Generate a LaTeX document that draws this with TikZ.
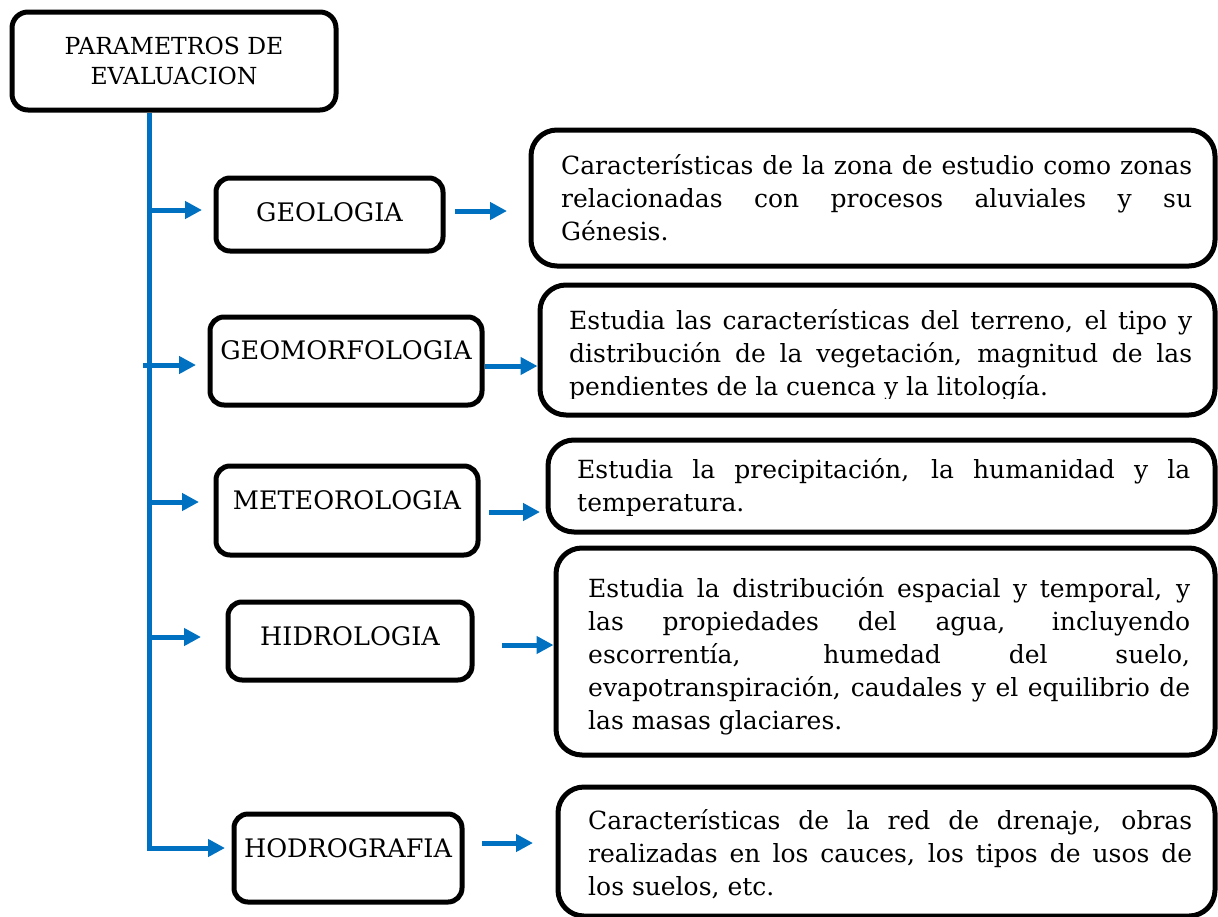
\documentclass[tikz,border=0pt]{standalone}
\usepackage{fontspec}
\setmainfont{DejaVu Serif}
\usepackage{tikz}
\usetikzlibrary{arrows.meta}
\definecolor{azul}{HTML}{0070C0}
\tolerance=10000
\hyphenpenalty=10000

\tikzset{
    caja/.style={draw, line width=5pt, inner sep=0pt},
    tema/.style={caja, rounded corners=14pt, anchor=base, text height=43pt,
        font=\fontsize{25.5}{30}\selectfont},
    detalle/.style={caja, rounded corners=26pt},
    texto/.style={inner sep=0pt, anchor=north west, align=justify,
        font=\fontsize{25}{33}\selectfont},
    rama/.style={draw=azul, line width=5pt, -{Triangle[length=17pt,width=17pt]}}
}

\begin{document}
\begin{tikzpicture}[x=1pt, y=-1pt]
\useasboundingbox (0,0) rectangle (1218,916);

\node[caja, rounded corners=16pt, minimum width=324pt, minimum height=98pt,
    align=center, font=\fontsize{23.5}{30}\selectfont] (param) at (174,61)
    {PARAMETROS DE\\EVALUACION};
\coordinate (tronco) at ([xshift=-25pt]param.south);

\node[tema, minimum width=227pt, text depth=30pt] (geo)    at (329.5,221) {GEOLOGIA};
\node[tema, minimum width=272pt, text depth=46pt, text height=42pt] (geomor) at (346,359) {GEOMORFOLOGIA};
\node[tema, minimum width=262pt, text depth=46pt] (meteo)  at (347,509) {METEOROLOGIA};
\node[tema, minimum width=244pt, text depth=35pt] (hidro)  at (350,645) {HIDROLOGIA};
\node[tema, minimum width=228pt, text depth=45pt] (hodro)  at (348,857) {HODROGRAFIA};

\node[detalle, minimum width=684pt, minimum height=136pt] (d1) at (873,198) {};
\node[detalle, minimum width=675pt, minimum height=130pt] (d2) at (877.5,350) {};
\node[detalle, minimum width=667pt, minimum height=92pt]  (d3) at (881.5,486) {};
\node[detalle, minimum width=659pt, minimum height=207pt] (d4) at (885.5,651.5) {};
\node[detalle, minimum width=657pt, minimum height=129pt] (d5) at (886.5,851.5) {};

\begin{scope}
    \clip (d1.north west) rectangle ([yshift=19pt]d1.south east);
    \node[texto, text width=631pt] (t1) at (561,150.9)
        {\strut Características de la zona de estudio como zonas\linebreak
        relacionadas con procesos aluviales y su\linebreak
        Génesis.};
\end{scope}
\begin{scope}
    \clip (d2.north west) rectangle ([yshift=19pt]d2.south east);
    \node[texto, text width=623pt] (t2) at (569,305.9)
        {\strut Estudia las características del terreno, el tipo y\linebreak
        distribución de la vegetación, magnitud de las\linebreak
        pendientes de la cuenca y la litología.};
\end{scope}
\begin{scope}
    \clip (d3.north west) rectangle ([yshift=19pt]d3.south east);
    \node[texto, text width=613pt] (t3) at (577,454.9)
        {\strut Estudia la precipitación, la humanidad y la\linebreak
        temperatura.};
\end{scope}
\begin{scope}
    \clip (d4.north west) rectangle ([yshift=19pt]d4.south east);
    \node[texto, text width=602pt] (t4) at (588,573.9)
        {\strut Estudia la distribución espacial y temporal, y\linebreak
        las propiedades del agua, incluyendo\linebreak
        escorrentía, humedad del suelo,\linebreak
        evapotranspiración, caudales y el equilibrio de\linebreak
        las masas glaciares.};
\end{scope}
\begin{scope}
    \clip (d5.north west) rectangle ([yshift=17pt]d5.south east);
    \node[texto, text width=604pt] (t5) at (588,805.9)
        {\strut Características de la red de drenaje, obras\linebreak
        realizadas en los cauces, los tipos de usos de\linebreak
        los suelos, etc.};
\end{scope}

% tronco y ramas
\draw[rama] (tronco) |- ([xshift=-6.5pt,yshift=10pt]hodro.west);
\draw[rama] ([yshift=4.5pt]tronco |- geo.west) -- ([xshift=-11.5pt,yshift=4.5pt]geo.west);
\draw[rama] ([xshift=-6pt,yshift=-4pt]tronco |- geomor.west) -- ([xshift=-11.5pt,yshift=-4pt]geomor.west);
\draw[rama] ([yshift=8.5pt]tronco |- meteo.west) -- ([xshift=-14.5pt,yshift=8.5pt]meteo.west);
\draw[rama] ([yshift=4pt]tronco |- hidro.west) -- ([xshift=-24.5pt,yshift=4pt]hidro.west);

% hacia las descripciones
\draw[rama, shorten <=9.5pt, shorten >=21.5pt] ([yshift=3.5pt]geo.east) -- ([yshift=3.5pt]geo.east -| d1.west);
\draw[rama] ([yshift=-5pt]geomor.east) -- ([yshift=-5pt]geomor.east -| d2.west);
\draw[rama, shorten <=8.5pt, shorten >=5.5pt] ([yshift=-1.5pt]meteo.east) -- ([yshift=-1.5pt]meteo.east -| d3.west);
\draw[rama, shorten <=27.5pt] ([yshift=-4pt]hidro.east) -- ([yshift=-4pt]hidro.east -| d4.west);
\draw[rama, shorten <=17.5pt, shorten >=22.5pt] ([yshift=15pt]hodro.east) -- ([yshift=15pt]hodro.east -| d5.west);
\end{tikzpicture}
\end{document}
